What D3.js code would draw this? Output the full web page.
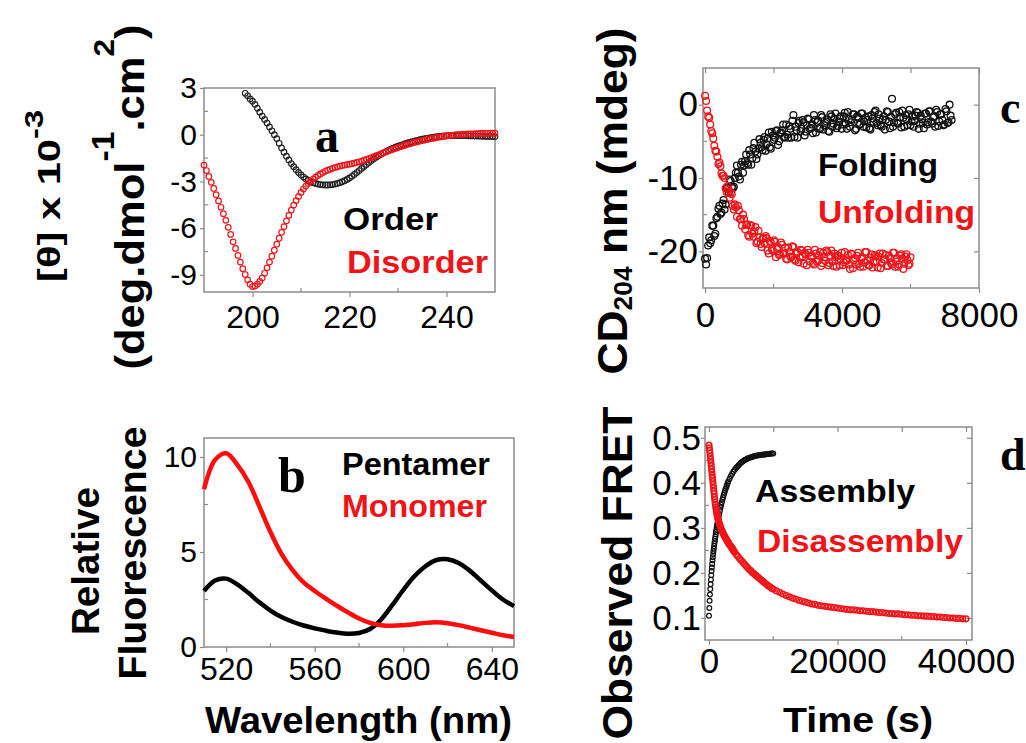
<!DOCTYPE html>
<html>
<head>
<meta charset="utf-8">
<script src="https://d3js.org/d3.v7.min.js"></script>
<style>
  body { margin: 0; background: #fff; }
  svg { display: block; font-family: "Liberation Sans", Arial, sans-serif; }
</style>
</head>
<body>
<div id="fig"></div>
<script>
// ---------- data ----------

// (a) CD spectra, 0.5 nm steps
let orderStart = 198.5, disorderStart = 190, cdStep = 0.5;
let orderTheta = [
  2.66, 2.5, 2.3, 2.15, 1.95, 1.7, 1.45, 1.2, 0.98, 0.75,
  0.5, 0.25, 0.0, -0.25, -0.55, -0.85, -1.12, -1.38, -1.62, -1.85,
  -2.05, -2.25, -2.42, -2.58, -2.72, -2.84, -2.94, -3.02, -3.08, -3.13,
  -3.17, -3.2, -3.22, -3.23, -3.23, -3.22, -3.2, -3.17, -3.13, -3.08,
  -3.02, -2.95, -2.87, -2.78, -2.67, -2.55, -2.43, -2.3, -2.17, -2.04,
  -1.91, -1.78, -1.66, -1.55, -1.44, -1.34, -1.25, -1.16, -1.08, -1.0,
  -0.93, -0.86, -0.8, -0.74, -0.68, -0.63, -0.58, -0.53, -0.48, -0.44,
  -0.4, -0.36, -0.32, -0.29, -0.26, -0.23, -0.2, -0.17, -0.15, -0.13,
  -0.11, -0.09, -0.08, -0.07, -0.06, -0.05, -0.05, -0.05, -0.05, -0.05,
  -0.06, -0.06, -0.07, -0.07, -0.08, -0.08, -0.09, -0.09, -0.1, -0.1,
  -0.11, -0.11, -0.12, -0.12
];
let disorderTheta = [
  -1.95, -2.3, -2.68, -3.06, -3.45, -3.85, -4.25, -4.66, -5.07, -5.5,
  -5.95, -6.4, -6.88, -7.3, -7.75, -8.18, -8.6, -8.98, -9.32, -9.6,
  -9.75, -9.72, -9.6, -9.42, -9.2, -8.9, -8.55, -8.18, -7.8, -7.42,
  -7.03, -6.65, -6.27, -5.9, -5.53, -5.18, -4.84, -4.52, -4.23, -3.96,
  -3.71, -3.49, -3.3, -3.13, -2.98, -2.85, -2.73, -2.62, -2.52, -2.43,
  -2.35, -2.28, -2.22, -2.16, -2.11, -2.06, -2.02, -1.98, -1.95, -1.92,
  -1.89, -1.86, -1.82, -1.78, -1.74, -1.69, -1.64, -1.59, -1.53, -1.47,
  -1.41, -1.35, -1.29, -1.23, -1.17, -1.11, -1.05, -0.99, -0.93, -0.88,
  -0.82, -0.77, -0.72, -0.67, -0.62, -0.58, -0.53, -0.49, -0.45, -0.41,
  -0.37, -0.34, -0.3, -0.27, -0.24, -0.21, -0.18, -0.15, -0.13, -0.1,
  -0.08, -0.06, -0.04, -0.02, 0.0, 0.01, 0.02, 0.03, 0.04, 0.05,
  0.06, 0.06, 0.07, 0.07, 0.08, 0.08, 0.09, 0.09, 0.1, 0.1,
  0.1
];

// (b) fluorescence spectra
let fluorWl = [510, 515, 520, 525, 530, 535, 540, 545, 550, 555, 560, 565, 570, 575, 580,
  585, 590, 595, 600, 605, 610, 615, 620, 625, 630, 635, 640, 645, 650];
let pentamer = [2.95, 3.5, 3.6, 3.3, 2.85, 2.35, 1.92, 1.58, 1.33, 1.13, 0.98, 0.86, 0.76, 0.7, 0.74,
  0.95, 1.45, 2.2, 3.0, 3.72, 4.25, 4.58, 4.62, 4.42, 4.02, 3.5, 2.98, 2.5, 2.15];
let monomer = [8.3, 9.85, 10.2, 9.6, 8.7, 7.4, 6.05, 4.9, 4.05, 3.4, 2.95, 2.55, 2.17, 1.82, 1.5,
  1.27, 1.15, 1.12, 1.15, 1.2, 1.27, 1.3, 1.25, 1.15, 1.02, 0.88, 0.75, 0.62, 0.53];

// (c) CD204 kinetics: readings every 60 s, plus the readings taken in between
let foldTime = d3.range(0, 7201, 60);
let foldCD = [
  -21.0, -20.9, -18.1, -18.5, -16.5, -17.6, -15.3, -13.8, -14.7, -13.0,
  -13.6, -11.4, -10.2, -11.2, -11.2, -9.3, -9.3, -10.2, -7.8, -8.3,
  -6.8, -8.2, -6.8, -7.3, -5.2, -7.4, -6.0, -5.2, -6.2, -4.4,
  -5.4, -3.8, -6.0, -4.2, -4.5, -3.5, -5.0, -3.8, -2.7, -4.4,
  -4.1, -2.9, -4.5, -1.4, -3.0, -4.5, -2.2, -3.3, -2.4, -3.7,
  -1.9, -3.3, -2.7, -1.4, -3.8, -2.2, -3.3, -1.7, -2.8, -2.3,
  -3.6, -1.3, -3.0, -1.9, -3.2, -2.3, -1.6, -2.7, -1.1, -3.3,
  -2.0, -2.4, -1.3, -3.5, -1.6, -2.7, -1.2, -3.0, -1.8, -2.1,
  -3.2, -1.4, -2.4, -0.8, -2.8, -1.9, -3.0, -1.6, -2.1, -1.0,
  -3.2, 0.8, -2.4, -1.1, -2.6, -1.7, -0.8, -3.0, -2.0, -1.3,
  -2.8, -1.6, -2.2, -1.0, -3.3, -1.5, -2.5, -1.2, -2.7, -0.9,
  -2.3, -1.7, -3.0, -1.0, -2.3, -1.3, -2.8, -0.6, -2.5, 0.0,
  -2.1
];
let foldTimeMid = d3.range(30, 7200, 60);
let foldCDMid = [
  -21.8, -19.2, -18.9, -16.5, -17.9, -15.5, -14.2, -14.9, -13.5, -14.3,
  -11.3, -12.0, -10.4, -11.4, -10.0, -8.3, -9.8, -8.2, -9.3, -7.7,
  -8.0, -6.2, -8.2, -5.9, -6.4, -6.8, -4.7, -5.8, -4.8, -6.3,
  -4.6, -5.8, -3.7, -4.8, -3.6, -5.5, -3.9, -3.5, -4.5, -2.7,
  -4.5, -3.3, -2.2, -4.4, -3.5, -2.5, -3.6, -2.1, -4.2, -2.8,
  -2.0, -3.2, -3.9, -2.1, -2.4, -3.3, -1.4, -3.4, -2.5, -2.0,
  -3.7, -1.6, -2.6, -1.2, -2.9, -1.9, -3.3, -1.6, -2.6, -1.0,
  -3.0, -2.0, -1.3, -3.3, -1.7, -2.7, -1.2, -2.3, -3.1, -1.6,
  -3.4, -1.9, -1.0, -2.5, -1.3, -2.8, -2.0, -3.4, -0.9, -2.3,
  -1.7, -3.0, -1.3, -2.5, -1.0, -3.1, -1.8, -1.4, -2.8, -0.7,
  -2.3, -3.0, -1.5, -1.1, -2.6, -2.0, -3.2, -1.2, -2.4, -0.9,
  -2.6, -1.6, -0.7, -2.9, -1.3, -2.1, -2.7, -0.9, -2.4, -1.5
];
let unfoldTime = d3.range(0, 6001, 60);
let unfoldCD = [
  1.2, -0.8, -1.8, -3.6, -4.6, -6.3, -7.1, -7.9, -9.4, -9.7,
  -11.4, -11.1, -12.7, -12.2, -14.3, -14.0, -13.8, -15.6, -16.5, -15.6,
  -16.4, -17.8, -16.4, -17.6, -17.3, -18.9, -17.2, -19.0, -18.3, -18.9,
  -18.2, -20.3, -18.8, -19.9, -18.7, -19.7, -20.5, -18.8, -20.3, -19.5,
  -21.1, -20.1, -20.8, -19.4, -21.3, -20.1, -20.8, -19.9, -21.7, -20.4,
  -19.8, -21.4, -20.7, -21.8, -20.3, -21.2, -20.1, -21.6, -20.8, -19.9,
  -21.9, -20.6, -21.4, -20.3, -22.1, -20.6, -21.1, -21.9, -20.1, -21.3,
  -21.8, -20.3, -22.3, -20.9, -20.6, -21.7, -21.0, -22.1, -20.1, -21.3,
  -21.9, -20.4, -21.5, -20.7, -22.2, -20.3, -21.6, -21.1, -20.5, -22.0,
  -20.9, -21.8, -20.2, -21.4, -22.1, -20.6, -21.0, -21.7, -20.4, -21.9,
  -20.8
];
let unfoldTimeMid = d3.range(30, 6000, 60);
let unfoldCDMid = [
  0.5, -1.6, -2.7, -3.9, -5.6, -6.4, -8.1, -8.4, -9.7, -10.0,
  -11.9, -11.6, -12.0, -13.8, -13.6, -15.3, -14.4, -15.6, -15.0, -17.0,
  -16.3, -18.0, -16.5, -18.0, -16.7, -18.7, -18.1, -19.4, -18.2, -17.9,
  -19.9, -18.6, -19.7, -18.5, -20.8, -19.4, -20.4, -19.1, -20.3, -21.0,
  -19.5, -20.7, -19.3, -21.1, -20.3, -21.5, -19.8, -20.7, -20.2, -21.9,
  -20.2, -20.7, -21.6, -19.8, -21.4, -20.6, -22.0, -20.2, -21.3, -20.1,
  -21.6, -19.9, -22.0, -20.8, -20.6, -21.9, -20.2, -21.5, -21.2, -20.5,
  -22.4, -20.4, -21.2, -21.8, -20.2, -22.1, -20.8, -21.5, -20.1, -21.9,
  -20.9, -22.2, -20.5, -21.4, -20.7, -22.3, -20.3, -21.1, -22.0, -20.6,
  -21.6, -20.2, -22.1, -20.9, -21.8, -20.4, -22.4, -20.7, -21.2, -21.7
];

// (d) FRET kinetics (denser sampling early on)
let assemblyTime = d3.range(0, 1501, 50).concat(d3.range(1600, 3001, 100), d3.range(3200, 10001, 200));
let assemblyFret = [
  0.105, 0.122, 0.138, 0.152, 0.164, 0.175, 0.185, 0.195, 0.204, 0.212,
  0.220, 0.228, 0.235, 0.242, 0.248, 0.254, 0.260, 0.266, 0.271, 0.276,
  0.281, 0.286, 0.291, 0.295, 0.300, 0.304, 0.308, 0.312, 0.316, 0.320, 0.324,
  0.331, 0.338, 0.345, 0.351, 0.357, 0.363, 0.368, 0.373, 0.378, 0.383,
  0.387, 0.391, 0.395, 0.399, 0.403,
  0.409, 0.415, 0.420, 0.425, 0.429, 0.433, 0.436, 0.439, 0.442, 0.445,
  0.447, 0.449, 0.451, 0.452, 0.454, 0.455, 0.456, 0.457, 0.458, 0.459,
  0.460, 0.460, 0.461, 0.461, 0.462, 0.462, 0.463, 0.463, 0.463, 0.464,
  0.464, 0.464, 0.465, 0.465, 0.465
];
let disTime = d3.range(0, 1501, 50).concat(d3.range(1600, 4001, 100), d3.range(4250, 10001, 250), d3.range(10500, 40001, 500));
let disFret = [
  0.484, 0.478, 0.472, 0.466, 0.459, 0.452, 0.445, 0.438, 0.431, 0.424,
  0.417, 0.410, 0.403, 0.396, 0.389, 0.382, 0.376, 0.369, 0.363, 0.357,
  0.352, 0.347, 0.342, 0.338, 0.334, 0.330, 0.327, 0.323, 0.320, 0.317, 0.315,
  0.310, 0.306, 0.302, 0.298, 0.294, 0.291, 0.288, 0.285, 0.282, 0.280,
  0.277, 0.275, 0.272, 0.270, 0.268, 0.265, 0.263, 0.261, 0.259, 0.257,
  0.255, 0.253, 0.250, 0.248, 0.246,
  0.241, 0.237, 0.232, 0.228, 0.224, 0.220, 0.216, 0.212, 0.208, 0.205,
  0.201, 0.198, 0.195, 0.192, 0.189, 0.186, 0.183, 0.180, 0.177, 0.174,
  0.171, 0.169, 0.166, 0.164,
  0.160, 0.157, 0.153, 0.150, 0.147, 0.144, 0.142, 0.139, 0.137, 0.135,
  0.133, 0.131, 0.130, 0.128, 0.127, 0.126, 0.125, 0.124, 0.123, 0.122,
  0.121, 0.120, 0.119, 0.118, 0.118, 0.117, 0.116, 0.116, 0.115, 0.114,
  0.114, 0.113, 0.112, 0.112, 0.111, 0.110, 0.110, 0.109, 0.109, 0.108,
  0.107, 0.107, 0.106, 0.106, 0.105, 0.105, 0.104, 0.104, 0.103, 0.103,
  0.102, 0.102, 0.101, 0.101, 0.100, 0.100, 0.099, 0.099, 0.098, 0.098
];

// ---------- drawing ----------
let svgWidth = 1026, svgHeight = 743;
let RED = "#f01419";
let FRAME = "#8c8c8c";
let SERIF = "'Liberation Serif', 'Times New Roman', serif";

let svg = d3.select("#fig").append("svg")
  .attr("width", svgWidth)
  .attr("height", svgHeight);

svg.append("rect").attr("width", svgWidth).attr("height", svgHeight).attr("fill", "#fff");

// one framed panel with its scales and axes
function makePanel(p) {
  let x = d3.scaleLinear().domain(p.xDomain).range([p.left, p.right]);
  let y = d3.scaleLinear().domain(p.yDomain).range([p.bottom, p.top]);
  let g = svg.append("g");

  let bottomAxis = d3.axisBottom(x).tickValues(p.xTicks).tickSize(5)
    .tickPadding(p.xPad).tickFormat(d => String(d));
  let leftAxis = d3.axisLeft(y).tickValues(p.yTicks).tickSize(4)
    .tickPadding(p.yPad).tickFormat(p.yFormat || (d => String(d)));

  g.append("g").attr("transform", `translate(0,${p.bottom})`).call(bottomAxis)
    .call(a => a.select(".domain").remove())
    .call(a => a.selectAll("text").attr("font-size", p.xFont).attr("fill", "#000"));
  g.append("g").attr("transform", `translate(${p.left},0)`).call(leftAxis)
    .call(a => a.select(".domain").remove())
    .call(a => a.selectAll("text").attr("font-size", p.yFont).attr("fill", "#000"));

  // minor ticks pointing into the frame
  let minor = g.append("g").attr("stroke", FRAME).attr("stroke-width", 1.2);
  minor.selectAll("line.mx").data(p.xMinor).join("line")
    .attr("x1", d => x(d)).attr("x2", d => x(d))
    .attr("y1", p.bottom).attr("y2", p.bottom - 4);
  minor.selectAll("line.my").data(p.yMinor).join("line")
    .attr("x1", p.left).attr("x2", p.left + 4)
    .attr("y1", d => y(d)).attr("y2", d => y(d));

  if (p.mirror) {
    g.append("g").attr("transform", `translate(0,${p.top})`)
      .call(d3.axisTop(x).tickValues(p.xTicks.concat(p.xMinor)).tickSize(-5).tickFormat(""))
      .call(a => a.select(".domain").remove());
    g.append("g").attr("transform", `translate(${p.right},0)`)
      .call(d3.axisRight(y).tickValues(p.yTicks).tickSize(-5).tickFormat(""))
      .call(a => a.select(".domain").remove());
  }
  g.selectAll(".tick line").attr("stroke", FRAME).attr("stroke-width", 1.2);

  g.append("rect")
    .attr("x", p.left).attr("y", p.top)
    .attr("width", p.right - p.left).attr("height", p.bottom - p.top)
    .attr("fill", "none").attr("stroke", FRAME).attr("stroke-width", 1.5);

  return { g, x, y };
}

function scatter(panel, xs, ys, color, r, sw) {
  panel.g.append("g").selectAll("circle")
    .data(ys.map((v, i) => [xs[i], v]))
    .join("circle")
    .attr("cx", d => panel.x(d[0]))
    .attr("cy", d => panel.y(d[1]))
    .attr("r", r)
    .attr("fill", "none")
    .attr("stroke", color)
    .attr("stroke-width", sw);
}

function addText(txt, x, y, size, color, opts) {
  opts = opts || {};
  let t = svg.append("text")
    .attr("x", x).attr("y", y)
    .attr("font-size", size)
    .attr("font-weight", "bold")
    .attr("fill", color)
    .attr("text-anchor", opts.anchor || "start")
    .text(txt);
  if (opts.family) t.attr("font-family", opts.family);
  if (opts.len) t.attr("textLength", opts.len).attr("lengthAdjust", "spacingAndGlyphs");
  return t;
}

// rotated label built from pieces, [text, dy, size]
function rotLabel(parts, x, y, size, len) {
  let t = svg.append("text")
    .attr("transform", `translate(${x},${y}) rotate(-90)`)
    .attr("text-anchor", "middle")
    .attr("font-size", size)
    .attr("font-weight", "bold")
    .attr("fill", "#000")
    .attr("textLength", len)
    .attr("lengthAdjust", "spacingAndGlyphs");
  parts.forEach(pt => {
    t.append("tspan").attr("dy", pt[1]).attr("font-size", pt[2] || size).text(pt[0]);
  });
  return t;
}

// ----- panel a -----
let pa = makePanel({
  left: 204, right: 495, top: 88, bottom: 292,
  xDomain: [190, 250], yDomain: [-10.1, 3],
  xTicks: [200, 220, 240], xMinor: [210, 230],
  yTicks: [3, 0, -3, -6, -9], yMinor: [1.5, -1.5, -4.5, -7.5],
  xPad: 8, yPad: 3, xFont: 32, yFont: 30
});
scatter(pa, orderTheta.map((v, i) => orderStart + i * cdStep), orderTheta, "#222", 2.8, 1.2);
scatter(pa, disorderTheta.map((v, i) => disorderStart + i * cdStep), disorderTheta, RED, 2.8, 1.2);

addText("a", 315, 152, 48, "#000", { family: SERIF });
addText("Order", 343, 230, 31, "#000", { len: 95 });
addText("Disorder", 347, 273, 31, RED, { len: 141 });

rotLabel([["[θ] x 10", 0], ["-3", -17, 25]], 60, 196, 32, 172);
rotLabel([["(deg.dmol", 0], ["-1", -30, 31], [".cm", 30], ["2", -30, 29], [")", 30]], 144, 197, 40, 345);

// ----- panel b -----
let pb = makePanel({
  left: 204, right: 514, top: 438, bottom: 647,
  xDomain: [510, 650], yDomain: [0, 11],
  xTicks: [520, 560, 600, 640], xMinor: [540, 580, 620],
  yTicks: [0, 5, 10], yMinor: [2.5, 7.5],
  xPad: 5, yPad: 3, xFont: 32, yFont: 30
});
let fluorLine = d3.line()
  .x(d => pb.x(d[0]))
  .y(d => pb.y(d[1]))
  .curve(d3.curveCatmullRom);
pb.g.append("path")
  .attr("d", fluorLine(pentamer.map((v, i) => [fluorWl[i], v])))
  .attr("fill", "none").attr("stroke", "#000").attr("stroke-width", 4.5);
pb.g.append("path")
  .attr("d", fluorLine(monomer.map((v, i) => [fluorWl[i], v])))
  .attr("fill", "none").attr("stroke", "#ff0d0d").attr("stroke-width", 4.5);

addText("b", 278, 492, 50, "#000", { family: SERIF });
addText("Pentamer", 342, 475, 31, "#000", { len: 148 });
addText("Monomer", 342, 517, 31, RED, { len: 145 });
rotLabel([["Relative", 0]], 99, 561, 39, 148);
rotLabel([["Fluorescence", 0]], 146, 553, 39, 253);
addText("Wavelength (nm)", 358.5, 733, 37, "#000", { anchor: "middle", len: 307 });

// ----- panel c -----
let pc = makePanel({
  left: 703, right: 979, top: 68, bottom: 288,
  xDomain: [-60, 8000], yDomain: [-25, 5],
  xTicks: [0, 4000, 8000], xMinor: [2000, 6000],
  yTicks: [0, -10, -20], yMinor: [-5, -15],
  xPad: 9, yPad: 1, xFont: 35, yFont: 35, mirror: true
});
scatter(pc, foldTime, foldCD, "#111", 3.4, 1.3);
scatter(pc, foldTimeMid, foldCDMid, "#111", 3.4, 1.3);
scatter(pc, unfoldTime, unfoldCD, RED, 3.4, 1.3);
scatter(pc, unfoldTimeMid, unfoldCDMid, RED, 3.4, 1.3);

addText("c", 1000, 123, 46, "#000", { family: SERIF });
addText("Folding", 818, 176, 31, "#000", { len: 120 });
addText("Unfolding", 818, 223, 31, RED, { len: 157 });
rotLabel([["CD", 0], ["204", 5, 25], [" nm (mdeg)", -5]], 627, 201, 42, 347);

// ----- panel d -----
let pd = makePanel({
  left: 705, right: 972, top: 427, bottom: 640,
  xDomain: [-620, 40930], yDomain: [0.051, 0.524],
  xTicks: [0, 20000, 40000], xMinor: [10000, 30000],
  yTicks: [0.1, 0.2, 0.3, 0.4, 0.5], yMinor: [0.15, 0.25, 0.35, 0.45],
  xPad: 3, yPad: 0, xFont: 35, yFont: 35, mirror: true,
  yFormat: d3.format(".1f")
});
scatter(pd, assemblyTime, assemblyFret, "#111", 2.4, 1.2);
scatter(pd, disTime, disFret, RED, 2.8, 1.5);

addText("d", 1000, 470, 46, "#000", { family: SERIF });
addText("Assembly", 755, 502, 32, "#000", { len: 160 });
addText("Disassembly", 757, 552, 32, RED, { len: 206 });
rotLabel([["Observed FRET", 0]], 632, 573, 42, 333);
addText("Time (s)", 858, 732, 35, "#000", { anchor: "middle", len: 150 });
</script>
</body>
</html>
